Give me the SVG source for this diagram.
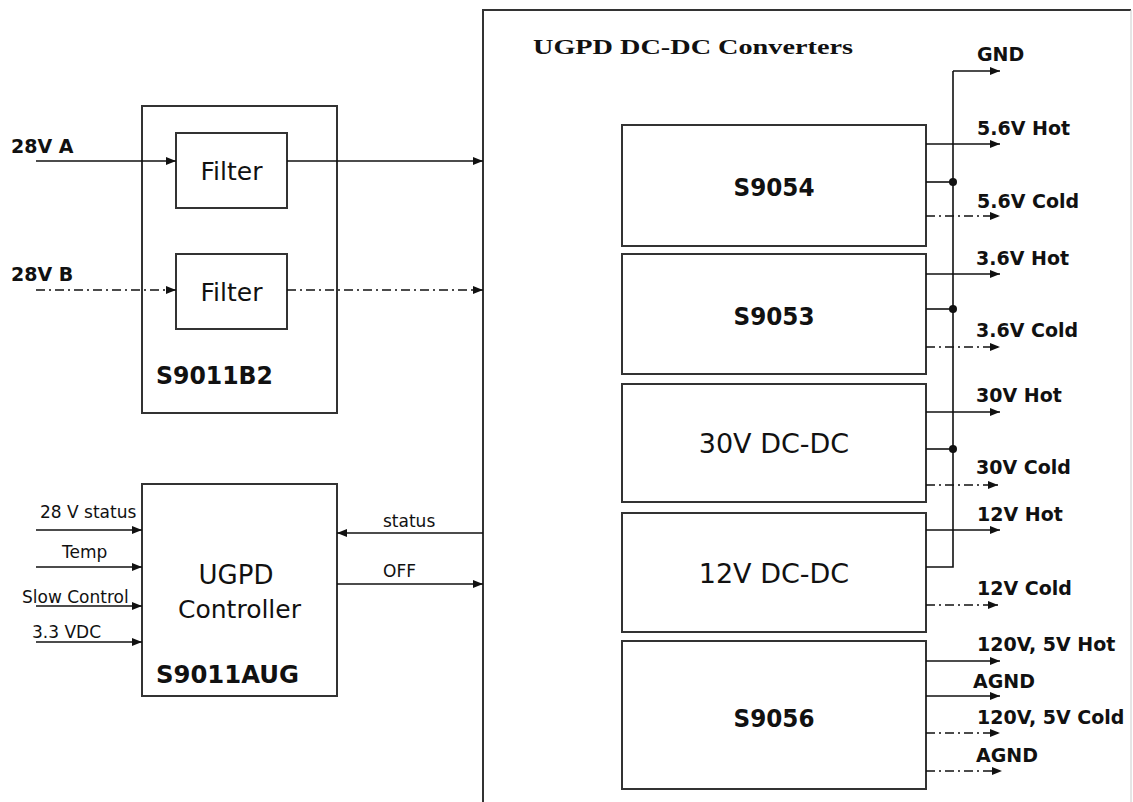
<svg xmlns="http://www.w3.org/2000/svg" width="1133" height="802" viewBox="0 0 1133 802">
<defs>
<marker id="ah" viewBox="0 0 10 8" refX="10" refY="4" markerWidth="10" markerHeight="8" orient="auto" markerUnits="userSpaceOnUse">
<path d="M0,0 L10,4 L0,8 z" fill="#111"/>
</marker>
</defs>
<style>
.box{fill:#fff;stroke:#333;stroke-width:2}
.ln{fill:none;stroke:#111;stroke-width:1.6}
.arr{fill:none;stroke:#111;stroke-width:1.6;marker-end:url(#ah)}
.dd{fill:none;stroke:#111;stroke-width:1.4;stroke-dasharray:9 4 2 4;marker-end:url(#ah)}
.t{font-family:"DejaVu Sans",Verdana,sans-serif;fill:#111}
.b{font-weight:bold}
.lbl{font-family:"DejaVu Sans",Verdana,sans-serif;font-weight:bold;font-size:19px;fill:#111}
.in{font-family:"DejaVu Sans",Verdana,sans-serif;font-size:17px;fill:#111}
.c{text-anchor:middle}
</style>
<rect width="1133" height="802" fill="#fff"/>

<g id="container">
<path d="M483,810 V10 H1131" fill="none" stroke="#333" stroke-width="2"/>
<line x1="1131" y1="10" x2="1131" y2="802" stroke="#ccc" stroke-width="1"/>
<text x="533" y="54" font-family="Liberation Serif,serif" font-weight="bold" font-size="20" fill="#111" textLength="320" lengthAdjust="spacingAndGlyphs">UGPD DC-DC Converters</text>
</g>

<g id="s9011b2">
<rect class="box" x="142" y="106" width="195" height="307"/>
<text class="t" x="156" y="384" font-size="24" font-weight="bold" textLength="117" lengthAdjust="spacingAndGlyphs">S9011B2</text>
</g>
<g id="filterA">
<rect class="box" x="176" y="133" width="111" height="75"/>
<text class="t c" x="231.5" y="180" font-size="25">Filter</text>
</g>
<g id="filterB">
<rect class="box" x="176" y="254" width="111" height="75"/>
<text class="t c" x="231.5" y="301" font-size="25">Filter</text>
</g>

<g id="controller">
<rect class="box" x="142" y="484" width="195" height="212"/>
<text class="t c" x="236" y="584" font-size="26">UGPD</text>
<text class="t c" x="239.5" y="618" font-size="25">Controller</text>
<text class="t" x="156" y="683" font-size="24" font-weight="bold" textLength="143" lengthAdjust="spacingAndGlyphs">S9011AUG</text>
</g>

<g id="s9054">
<rect class="box" x="622" y="125" width="304" height="121"/>
<text class="t b c" x="774" y="196" font-size="24" textLength="81" lengthAdjust="spacingAndGlyphs">S9054</text>
</g>
<g id="s9053">
<rect class="box" x="622" y="254" width="304" height="120"/>
<text class="t b c" x="774" y="325" font-size="24" textLength="81" lengthAdjust="spacingAndGlyphs">S9053</text>
</g>
<g id="dc30">
<rect class="box" x="622" y="384" width="304" height="118"/>
<text class="t c" x="774" y="453" font-size="27">30V DC-DC</text>
</g>
<g id="dc12">
<rect class="box" x="622" y="513" width="304" height="119"/>
<text class="t c" x="774" y="583" font-size="27">12V DC-DC</text>
</g>
<g id="s9056">
<rect class="box" x="622" y="641" width="304" height="148"/>
<text class="t b c" x="774" y="727" font-size="24" textLength="81" lengthAdjust="spacingAndGlyphs">S9056</text>
</g>

<g id="connectors">
<!-- inputs to filters -->
<line class="arr" x1="36" y1="161" x2="176" y2="161"/>
<line class="arr" x1="287" y1="161" x2="483" y2="161"/>
<line class="dd" x1="36" y1="290" x2="176" y2="290"/>
<line class="dd" x1="287" y1="290" x2="483" y2="290"/>
<!-- controller inputs -->
<line class="arr" x1="36" y1="530" x2="142" y2="530"/>
<line class="arr" x1="36" y1="567" x2="142" y2="567"/>
<line class="arr" x1="36" y1="606" x2="142" y2="606"/>
<line class="arr" x1="36" y1="642" x2="142" y2="642"/>
<!-- status / OFF -->
<line class="arr" x1="483" y1="533" x2="337" y2="533"/>
<line class="arr" x1="337" y1="584" x2="483" y2="584"/>
<!-- GND bus -->
<path class="ln" d="M926,567 H953 V71"/>
<line class="arr" x1="953" y1="71" x2="1000" y2="71"/>
<line class="ln" x1="926" y1="182" x2="953" y2="182"/>
<line class="ln" x1="926" y1="309" x2="953" y2="309"/>
<line class="ln" x1="926" y1="449" x2="953" y2="449"/>
<circle cx="953" cy="182" r="4" fill="#111"/>
<circle cx="953" cy="309" r="4" fill="#111"/>
<circle cx="953" cy="449" r="4" fill="#111"/>
<!-- hot outputs -->
<line class="arr" x1="926" y1="144" x2="1000" y2="144"/>
<line class="arr" x1="926" y1="274" x2="1000" y2="274"/>
<line class="arr" x1="926" y1="412" x2="1000" y2="412"/>
<line class="arr" x1="926" y1="530" x2="1000" y2="530"/>
<line class="arr" x1="926" y1="661" x2="1000" y2="661"/>
<line class="arr" x1="926" y1="696" x2="1000" y2="696"/>
<!-- cold outputs -->
<line class="dd" x1="926" y1="216" x2="1000" y2="216"/>
<line class="dd" x1="926" y1="347" x2="1000" y2="347"/>
<line class="dd" x1="926" y1="485" x2="998" y2="485"/>
<line class="dd" x1="926" y1="605" x2="998" y2="605"/>
<line class="dd" x1="926" y1="733" x2="1000" y2="733"/>
<line class="dd" x1="926" y1="771" x2="1002" y2="771"/>
</g>

<g id="labels">
<text class="lbl" x="11" y="153">28V A</text>
<text class="lbl" x="11" y="281">28V B</text>
<text class="in" x="40" y="518">28 V status</text>
<text class="in" x="62" y="558">Temp</text>
<text class="in" x="22" y="603">Slow Control</text>
<text class="in" x="32" y="638">3.3 VDC</text>
<text class="in" x="383" y="527">status</text>
<text class="in" x="383" y="577">OFF</text>
<text class="lbl" x="977" y="61">GND</text>
<text class="lbl" x="977" y="135">5.6V Hot</text>
<text class="lbl" x="977" y="208">5.6V Cold</text>
<text class="lbl" x="976" y="265">3.6V Hot</text>
<text class="lbl" x="976" y="337">3.6V Cold</text>
<text class="lbl" x="976" y="402">30V Hot</text>
<text class="lbl" x="976" y="474">30V Cold</text>
<text class="lbl" x="977" y="521">12V Hot</text>
<text class="lbl" x="977" y="595">12V Cold</text>
<text class="lbl" x="977" y="651">120V, 5V Hot</text>
<text class="lbl" x="973" y="688">AGND</text>
<text class="lbl" x="977" y="724">120V, 5V Cold</text>
<text class="lbl" x="976" y="762">AGND</text>
</g>
</svg>
